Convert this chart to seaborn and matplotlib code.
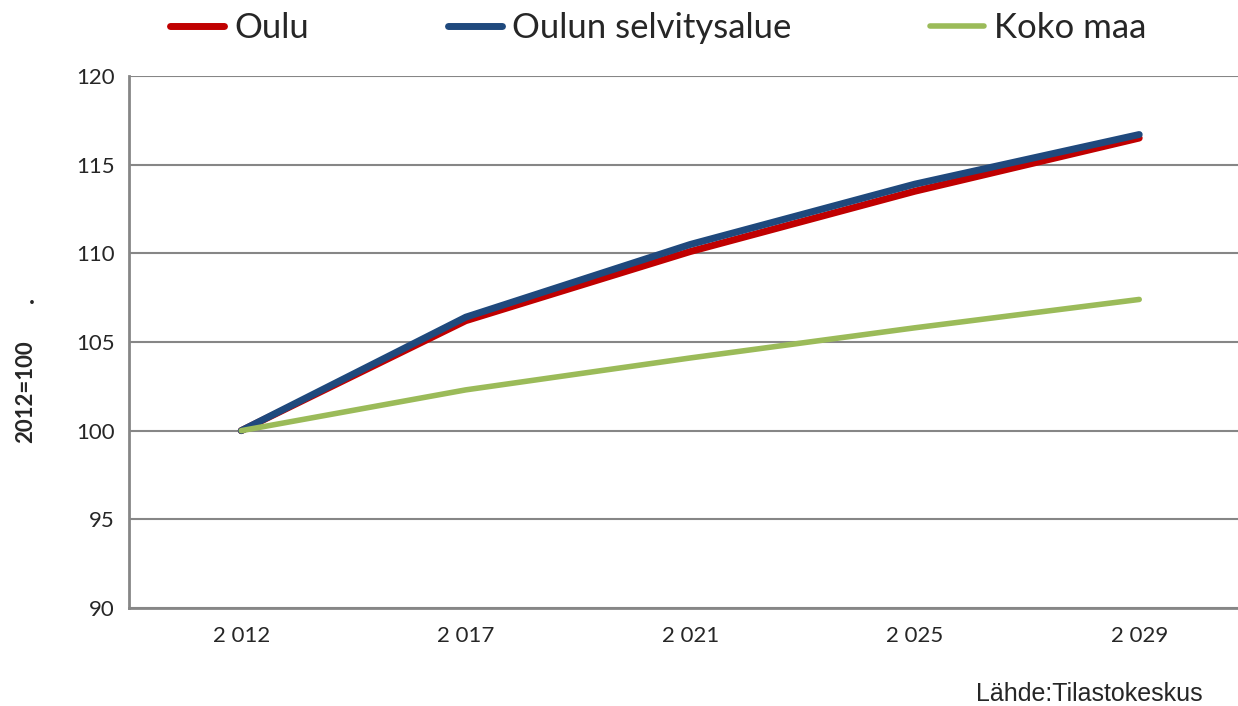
import pandas as pd
import numpy as np
import matplotlib
matplotlib.use('Agg')
import matplotlib.pyplot as plt
import seaborn as sns

years = ['2 012', '2 017', '2 021', '2 025', '2 029']
oulu = [100.0, 106.2, 110.1, 113.5, 116.5]
selvitysalue = [100.0, 106.4, 110.5, 113.9, 116.7]
koko_maa = [100.0, 102.3, 104.1, 105.8, 107.4]

series_names = ['Oulu', 'Oulun selvitysalue', 'Koko maa']
colors = ['#C00000', '#1F497D', '#9BBB59']
widths = [5.0, 5.0, 4.0]


def build_frame():
    rows = []
    for name, values in zip(series_names, [oulu, selvitysalue, koko_maa]):
        for i, v in enumerate(values):
            rows.append({'pos': i, 'value': v, 'series': name})
    return pd.DataFrame(rows)


def main():
    sns.set_style('white')
    plt.rcParams['font.family'] = ['Lato', 'DejaVu Sans']

    data = build_frame()
    fig = plt.figure(figsize=(12.38, 7.06), dpi=100)
    # axes box in pixels: left 129, right clipped past the image edge
    left, right, top, bottom = 129, 1238, 76, 608
    ax = fig.add_axes([left / 1238, 1 - bottom / 706, (right - left) / 1238, (bottom - top) / 706])

    grid_color = '#868686'
    ax.set_ylim(90, 120)
    ax.set_yticks(np.arange(90, 121, 5))
    ax.yaxis.grid(True, color=grid_color, linewidth=1.5)
    ax.set_axisbelow(True)

    sns.lineplot(data=data, x='pos', y='value', hue='series', hue_order=series_names,
                 palette=colors, ax=ax, legend=False, solid_capstyle='round')
    for line, w in zip(ax.lines, widths):
        line.set_linewidth(w)

    ax.set_xlim(-0.5, 4.44)
    ax.set_xticks(range(len(years)))
    ax.set_xticklabels(years, fontsize=16)
    ax.set_xticks(np.arange(-0.5, 4.5, 1), minor=True)
    ax.tick_params(axis='x', which='major', length=0, pad=13)
    ax.tick_params(axis='x', which='minor', length=7, width=1.2, color=grid_color, direction='out')
    ax.tick_params(axis='y', length=8, width=1.2, color=grid_color, direction='out', labelsize=16, pad=2)

    for side in ['top', 'right']:
        ax.spines[side].set_visible(False)
    for side in ['left', 'bottom']:
        ax.spines[side].set_color(grid_color)
        ax.spines[side].set_linewidth(2)

    ax.set_xlabel('')
    ax.set_ylabel('')
    fig.text(26 / 1238, 1 - 392 / 706, '2012=100', fontsize=16, fontweight='bold',
             rotation=90, ha='center', va='center')
    fig.text(32 / 1238, 1 - 296 / 706, '.', fontsize=18, fontweight='bold', ha='center', va='center')

    handles = [plt.Line2D([], [], color=c, linewidth=w, solid_capstyle='round')
               for c, w in zip(colors, widths)]
    fig.legend(handles, series_names, loc='center left', bbox_to_anchor=(156 / 1238, 1 - 28 / 706),
               ncol=3, frameon=False, fontsize=25, handlelength=1.55, handletextpad=0.3,
               columnspacing=4.0, borderaxespad=0)

    fig.text(1203 / 1238, 1 - 694 / 706, 'Lähde:Tilastokeskus', fontsize=18, ha='right', va='center',
             family=['Liberation Sans', 'DejaVu Sans'])

    fig.savefig('out.png', dpi=100)


if __name__ == '__main__':
    main()
